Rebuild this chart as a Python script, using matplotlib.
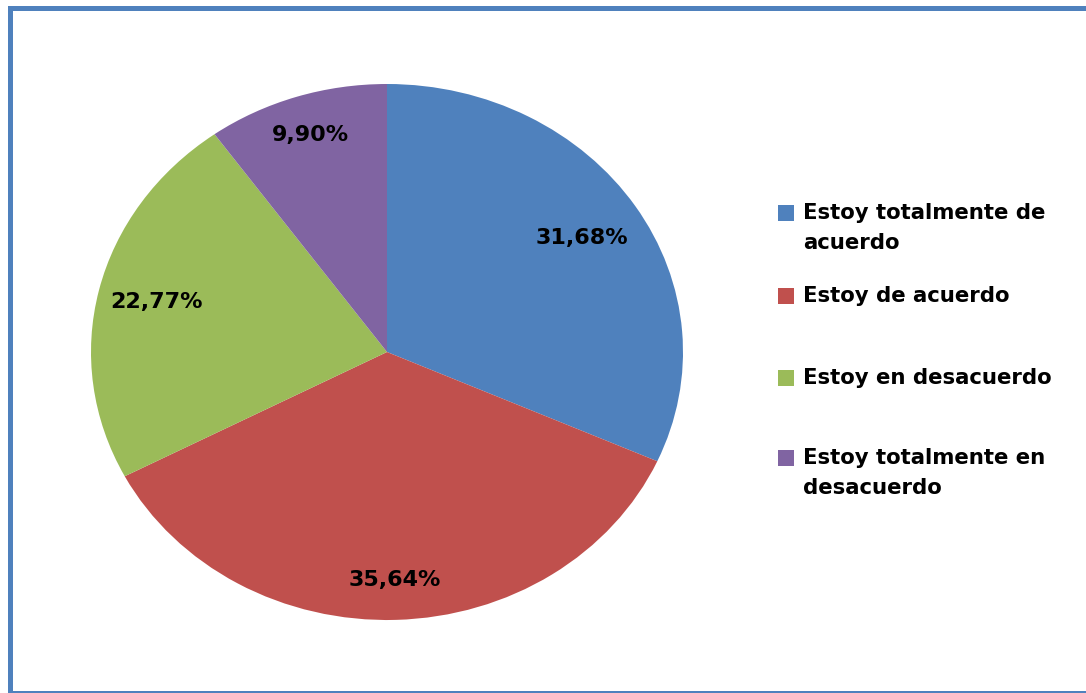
import matplotlib
matplotlib.use("Agg")
import matplotlib.pyplot as plt
from matplotlib.patches import Rectangle
import numpy as np

labels = ["Estoy totalmente de\nacuerdo", "Estoy de acuerdo",
          "Estoy en desacuerdo", "Estoy totalmente en\ndesacuerdo"]
values = [31.68, 35.64, 22.77, 9.90]
colors = ["#4F81BD", "#C0504D", "#9BBB59", "#8064A2"]

plt.rcParams["font.family"] = ["DejaVu Sans"]

W, H = 1086, 693
fig = plt.figure(figsize=(W / 100, H / 100), dpi=100)

# pie is an ellipse in the original: stretch via auto aspect
ax = fig.add_axes([91 / W, 73 / H, 592 / W, 536 / H])
wedges, texts = ax.pie(values, colors=colors, startangle=90, counterclock=False,
                       wedgeprops=dict(linewidth=0))
ax.set_aspect("auto")
ax.set_xlim(-1, 1); ax.set_ylim(-1, 1)
ax.axis("off")

dist = [0.785, 0.85, 0.80, 0.85]
for w, v, d in zip(wedges, values, dist):
    ang = np.deg2rad((w.theta1 + w.theta2) / 2)
    ax.text(d * np.cos(ang), d * np.sin(ang), f"{v:.2f}".replace(".", ",") + "%",
            ha="center", va="center", fontsize=16, fontweight="bold", color="#000000")

# legend drawn by hand to keep Excel's uneven spacing
leg_y = [213, 296, 378, 458]
for lab, c, y in zip(labels, colors, leg_y):
    fig.patches.append(Rectangle((778 / W, 1 - (y + 8) / H), 16 / W, 16 / H,
                                 transform=fig.transFigure, facecolor=c, edgecolor="none"))
    fig.text(803 / W, 1 - (y - 10) / H, lab, ha="left", va="top", fontsize=15.3,
             fontweight="bold", color="#000000", linespacing=1.6)

# blue frame
fc = "#4F81BD"
fig.patches.append(Rectangle((8 / W, 1 - 11 / H), 1 - 8 / W, 5 / H,
                             transform=fig.transFigure, facecolor=fc, edgecolor="none"))
fig.patches.append(Rectangle((8 / W, 0), 5 / W, 1 - 6 / H,
                             transform=fig.transFigure, facecolor=fc, edgecolor="none"))
fig.patches.append(Rectangle((8 / W, 0), 1 - 8 / W, 2 / H,
                             transform=fig.transFigure, facecolor=fc, edgecolor="none"))

fig.savefig("out.png", dpi=100)
